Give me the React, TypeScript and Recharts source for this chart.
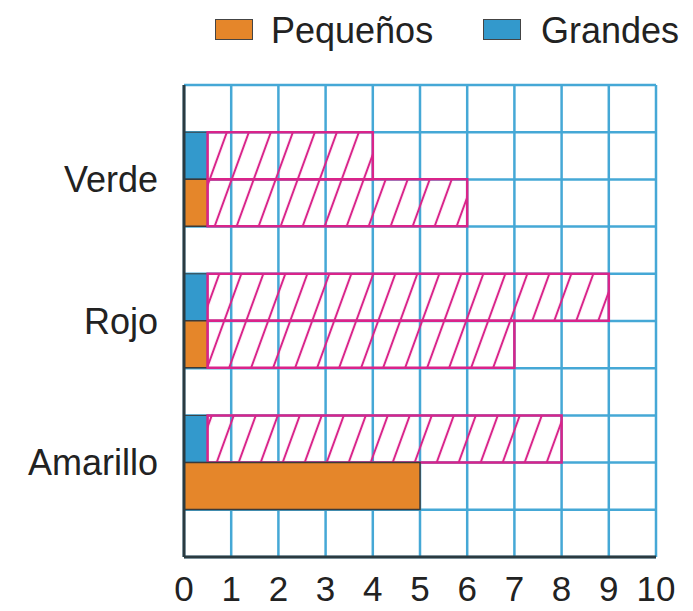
import { BarChart, Bar, XAxis, YAxis, CartesianGrid } from "recharts";

// Categorías y valores
const categorias = ["Verde", "Rojo", "Amarillo"];
const grandes = [4, 9, 8];
const grandesPintado = [0.5, 0.5, 0.5];
const pequenos = [6, 7, 5];
const pequenosPintado = [0.5, 0.5, 5];
const ticksX = [0, 1, 2, 3, 4, 5, 6, 7, 8, 9, 10];

const naranja = "#E5862A";
const azul = "#3399CC";
const rosa = "#D9248A";
const cuadricula = "#45A8D6";
const ejes = "#2B3A40";
const fuente = "'Liberation Sans', Arial, Helvetica, sans-serif";

const leyenda = [
  { nombre: "Pequeños", color: naranja },
  { nombre: "Grandes", color: azul },
];

// parte pintada + parte rayada (lo que falta por colorear)
const data = categorias.map((categoria, i) => ({
  categoria,
  gPintado: grandesPintado[i],
  gRayado: grandes[i] - grandesPintado[i],
  pPintado: pequenosPintado[i],
  pRayado: pequenos[i] - pequenosPintado[i],
}));

const FILAS = 10;

export default function App() {
  return (
    <div
      style={{
        position: "absolute",
        left: 0,
        top: 0,
        width: 693,
        height: 611,
        background: "#fff",
        fontFamily: fuente,
      }}
    >
      {/* leyenda */}
      <div style={{ position: "absolute", left: 215, top: 19, width: 38, height: 21, background: leyenda[0].color, border: "1.5px solid #444", boxSizing: "border-box" }} />
      <div style={{ position: "absolute", left: 271, top: 13, fontSize: 36, lineHeight: 1, color: "#222" }}>
        {leyenda[0].nombre}
      </div>
      <div style={{ position: "absolute", left: 483, top: 19, width: 38, height: 21, background: leyenda[1].color, border: "1.5px solid #444", boxSizing: "border-box" }} />
      <div style={{ position: "absolute", left: 541, top: 13, fontSize: 36, lineHeight: 1, color: "#222" }}>
        {leyenda[1].nombre}
      </div>

      <div style={{ position: "absolute", left: 0, top: 0 }}>
        <BarChart
          width={693}
          height={611}
          data={data}
          layout="vertical"
          margin={{ top: 85, right: 37, bottom: 4, left: 0 }}
          barGap={0}
          barCategoryGap="16.667%"
        >
          <defs>
            <pattern
              id="rayado"
              patternUnits="userSpaceOnUse"
              width={22}
              height={22}
              patternTransform="skewX(-20)"
            >
              <line x1={11} y1={-2} x2={11} y2={24} stroke={rosa} strokeWidth={2.2} />
            </pattern>
          </defs>
          <CartesianGrid
            stroke={cuadricula}
            strokeWidth={2.5}
            horizontalCoordinatesGenerator={({ offset }: any) =>
              Array.from({ length: FILAS + 1 }, (_, i) => offset.top + (offset.height * i) / FILAS)
            }
          />
          <XAxis
            type="number"
            domain={[0, 10]}
            ticks={ticksX}
            tickLine={false}
            tickSize={0}
            tickMargin={19}
            height={50}
            axisLine={{ stroke: ejes, strokeWidth: 3 }}
            tick={{ fill: "#222", fontSize: 35, fontFamily: fuente }}
          />
          <YAxis
            type="category"
            dataKey="categoria"
            width={184}
            padding={{ top: 23.6, bottom: 23.6 }}
            tickLine={false}
            tickSize={0}
            tickMargin={26}
            axisLine={{ stroke: ejes, strokeWidth: 3 }}
            tick={{ fill: "#222", fontSize: 36, fontFamily: fuente }}
          />
          <Bar dataKey="gPintado" stackId="g" fill={azul} stroke="#3a3a3a" strokeWidth={1} isAnimationActive={false} />
          <Bar dataKey="gRayado" stackId="g" fill="url(#rayado)" stroke={rosa} strokeWidth={2.5} isAnimationActive={false} />
          <Bar dataKey="pPintado" stackId="p" fill={naranja} stroke="#3a3a3a" strokeWidth={1.5} isAnimationActive={false} />
          <Bar dataKey="pRayado" stackId="p" fill="url(#rayado)" stroke={rosa} strokeWidth={2.5} isAnimationActive={false} />
        </BarChart>
      </div>
    </div>
  );
}
